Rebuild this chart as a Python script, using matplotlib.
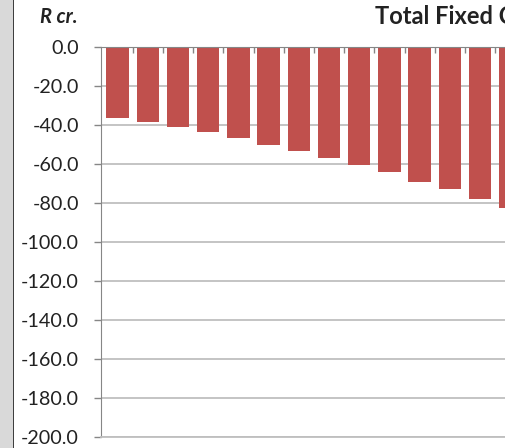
import matplotlib
matplotlib.use("Agg")
import matplotlib.pyplot as plt
from matplotlib.patches import Rectangle
import numpy as np

# ---- data ----
categories = list(range(1, 15))
values = [-36.6, -38.3, -41.0, -43.7, -46.5, -50.3, -53.2, -56.8,
          -60.5, -64.3, -69.1, -72.8, -78.1, -82.7]
yticks = [0, -20, -40, -60, -80, -100, -120, -140, -160, -180, -200]
ytick_labels = ["%.1f" % v for v in yticks]
title = "Total Fixed C"
unit_label = "R cr."

W, H = 521, 448
fig = plt.figure(figsize=(W / 100, H / 100), dpi=100)
fig.patch.set_facecolor("white")

ax_l, ax_r, ax_t, ax_b = 101, 505, 47, 437
ax = fig.add_axes([ax_l / W, (H - ax_b) / H, (ax_r - ax_l) / W, (ax_b - ax_t) / H])

x = np.arange(len(categories))
ax.bar(x, values, width=0.74, color="#C0504D", edgecolor="none", zorder=2)

ax.set_yticks(yticks)
ax.set_yticklabels(ytick_labels, fontsize=14.2, family=["Lato", "DejaVu Sans"], color="#222222")
ax.yaxis.grid(True, color="#BFBFBF", linewidth=1.3, zorder=0)
ax.set_axisbelow(True)
ax.tick_params(axis="y", direction="out", length=5, width=1, color="#868686", pad=11)

ax.xaxis.tick_top()
ax.set_xticks(x + 0.5)
ax.set_xticklabels([])
ax.tick_params(axis="x", direction="in", length=4, width=1, color="#868686")

ax.set_ylim(-200, 0)
left = -0.55
ax.set_xlim(left, left + (ax_r - ax_l) / 30.2)

ax.spines["right"].set_visible(False)
ax.spines["bottom"].set_color("#BFBFBF")
ax.spines["bottom"].set_linewidth(1.3)
ax.spines["top"].set_color("#868686")
ax.spines["left"].set_color("#868686")
ax.spines["top"].set_zorder(3)

fig.text(78 / W, 1 - 22.7 / H, unit_label, ha="right", va="baseline",
         fontsize=14.5, fontweight="bold", fontstyle="italic",
         family=["Lato", "DejaVu Sans"], color="#222222")
fig.text(375 / W, 1 - 24 / H, title, ha="left", va="baseline",
         fontsize=17, fontweight="bold", family=["Lato", "DejaVu Sans"], color="#222222")

# left grey window strip and right cut-off margin
fig.patches.append(Rectangle((0, 0), 12.5 / W, 1, transform=fig.transFigure,
                             facecolor="#D9D9D9", edgecolor="none", zorder=10))
fig.patches.append(Rectangle((12.5 / W, 0), 1.5 / W, 1, transform=fig.transFigure,
                             facecolor="#3F3F3F", edgecolor="none", zorder=10))
fig.patches.append(Rectangle((505 / W, 0), 16 / W, 1, transform=fig.transFigure,
                             facecolor="white", edgecolor="none", zorder=10))

fig.savefig("out.png", dpi=100)
